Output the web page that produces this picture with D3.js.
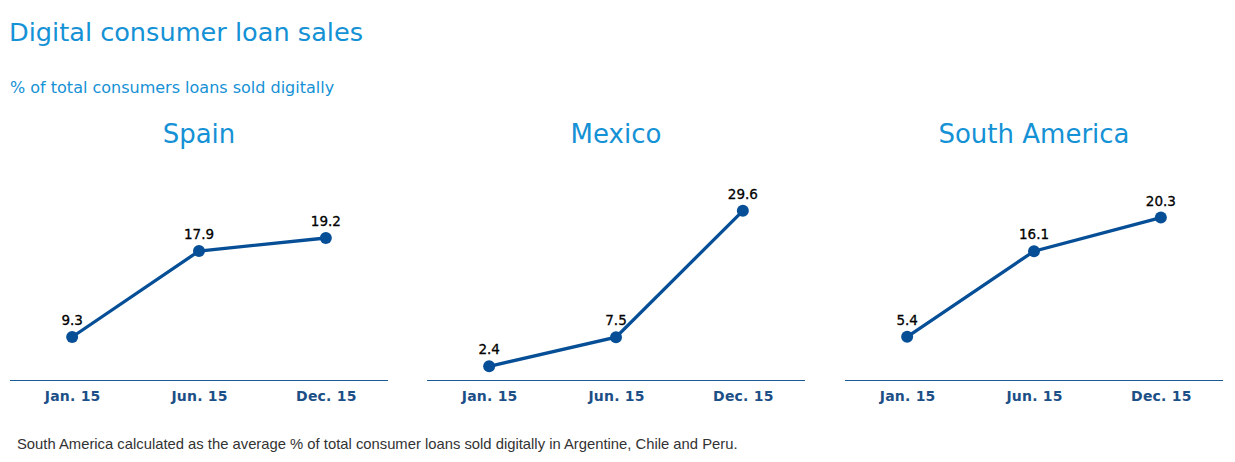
<!DOCTYPE html>
<html>
<head>
<meta charset="utf-8">
<script src="https://cdn.jsdelivr.net/npm/d3@7"></script>
<style>
  body { margin: 0; background: #fff; }
  text { font-family: "DejaVu Sans", Verdana, sans-serif; }
</style>
</head>
<body>
<div id="chart"></div>
<script>
var periods = ["Jan. 15", "Jun. 15", "Dec. 15"];
var regions = ["Spain", "Mexico", "South America"];
var spainValues = [9.3, 17.9, 19.2];
var mexicoValues = [2.4, 7.5, 29.6];
var southAmericaValues = [5.4, 16.1, 20.3];
var yDomains = [[5, 25], [0, 35], [0, 25]];

var seriesList = [spainValues, mexicoValues, southAmericaValues];

var width = 1235, height = 462;
var panelLeft = [10, 427, 845], panelWidth = 378;
var plotTop = 180, plotBottom = 380;

var svg = d3.select("#chart").append("svg")
    .attr("width", width)
    .attr("height", height);

svg.append("text")
    .attr("x", 9).attr("y", 41)
    .style("font-size", "25.6px")
    .style("fill", "#1591d5")
    .text("Digital consumer loan sales");

svg.append("text")
    .attr("x", 10).attr("y", 93)
    .style("font-size", "16px")
    .style("fill", "#1591d5")
    .text("% of total consumers loans sold digitally");

var line = d3.line()
    .x(function(d) { return d.x; })
    .y(function(d) { return d.y; });

for (var i = 0; i < regions.length; i++) {
  var x = d3.scalePoint()
      .domain(periods)
      .range([panelLeft[i], panelLeft[i] + panelWidth])
      .padding(0.49);
  var y = d3.scaleLinear()
      .domain(yDomains[i])
      .range([plotBottom, plotTop]);

  var g = svg.append("g");

  g.append("text")
      .attr("x", panelLeft[i] + panelWidth / 2)
      .attr("y", 143)
      .style("text-anchor", "middle")
      .style("font-size", "26px")
      .style("fill", "#1591d5")
      .text(regions[i]);

  var axis = g.append("g")
      .attr("transform", "translate(0," + plotBottom + ")")
      .call(d3.axisBottom(x).tickSize(0).tickPadding(11));
  axis.select(".domain")
      .attr("d", "M" + panelLeft[i] + ",0.5H" + (panelLeft[i] + panelWidth))
      .attr("stroke", "#1d5a94")
      .attr("stroke-width", 1);
  axis.selectAll(".tick text")
      .style("font-family", "'DejaVu Sans', Verdana, sans-serif")
      .style("font-size", "14px")
      .style("font-weight", "bold")
      .style("letter-spacing", "0.2px")
      .style("fill", "#1d4f87");

  var pts = seriesList[i].map(function(v, j) {
    return { x: x(periods[j]), y: y(v), v: v };
  });

  g.append("path")
      .datum(pts)
      .attr("d", line)
      .attr("fill", "none")
      .attr("stroke", "#064f97")
      .attr("stroke-width", 3.3);

  g.selectAll(".dot")
      .data(pts)
    .enter().append("circle")
      .attr("cx", function(d) { return d.x; })
      .attr("cy", function(d) { return d.y; })
      .attr("r", 6)
      .attr("fill", "#064f97");

  g.selectAll(".val")
      .data(pts)
    .enter().append("text")
      .attr("x", function(d) { return d.x; })
      .attr("y", function(d) { return d.y - 12; })
      .style("text-anchor", "middle")
      .style("font-size", "13.5px")
      .style("stroke", "#000")
      .style("stroke-width", 0.3)
      .style("fill", "#000")
      .text(function(d) { return d.v.toFixed(1); });
}

svg.append("text")
    .attr("x", 17).attr("y", 449)
    .style("font-family", "'Liberation Sans', Arial, sans-serif")
    .style("font-size", "14.8px")
    .style("fill", "#333")
    .text("South America calculated as the average % of total consumer loans sold digitally in Argentine, Chile and Peru.");
</script>
</body>
</html>
